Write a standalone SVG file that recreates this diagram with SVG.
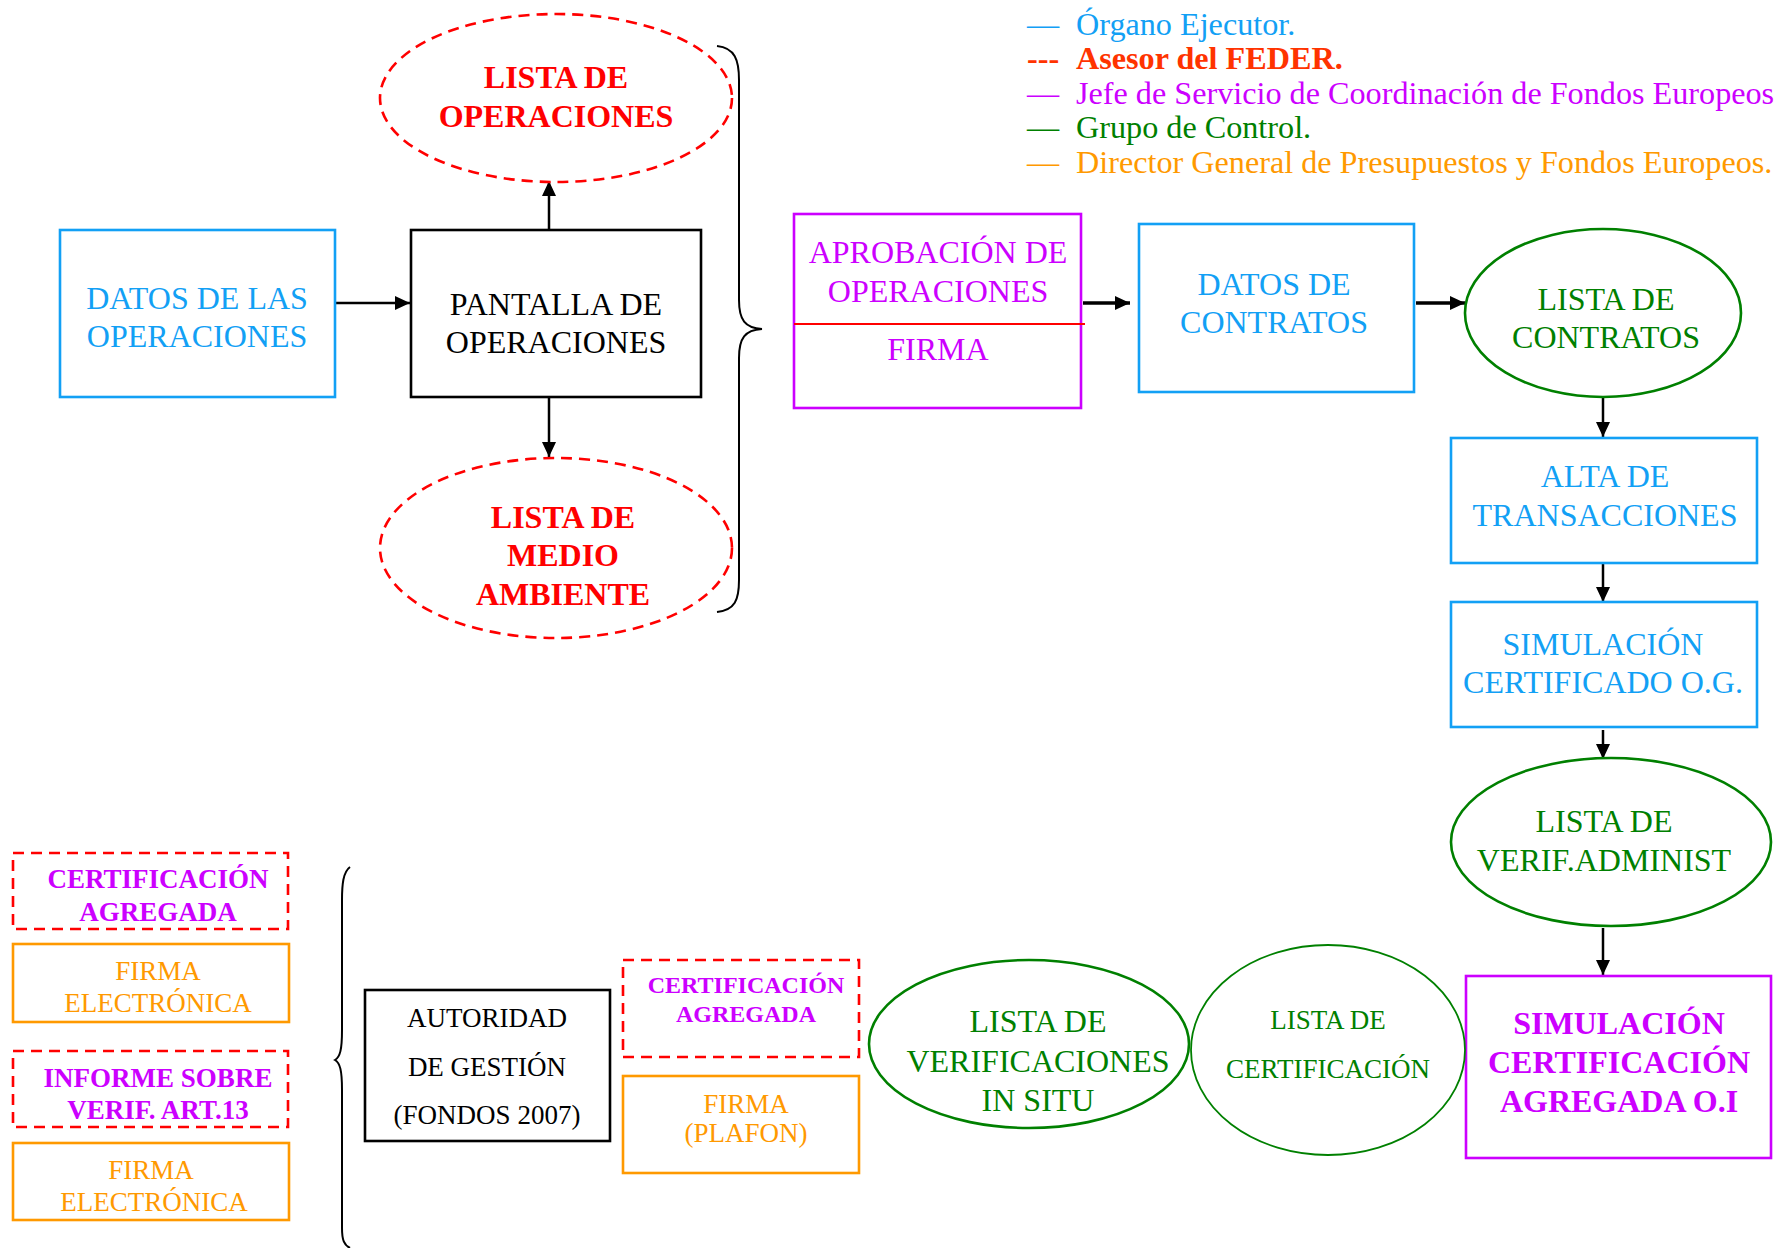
<svg xmlns="http://www.w3.org/2000/svg" width="1777" height="1248" viewBox="0 0 1777 1248">
<style>
text{font-family:"Liberation Serif","Times New Roman",serif;text-anchor:middle}
.t32{font-size:32px}
.t27{font-size:27px}
.t24{font-size:24px}
.b{font-weight:bold}
.blue{fill:#12a0f5}
.red{fill:#ff0000}
.mag{fill:#cc00ff}
.grn{fill:#008000}
.org{fill:#ff9900}
.blk{fill:#000}
.bx{fill:#fff;stroke-width:2.6}
.sb{stroke:#12a0f5}
.sm{stroke:#cc00ff}
.sg{stroke:#008000}
.so{stroke:#ff9900}
.sk{stroke:#000}
.dash{fill:#fff;stroke:#ff0000;stroke-width:2.6;stroke-dasharray:11 7}
.conn{stroke:#000;stroke-width:2.5;fill:none;marker-end:url(#ah)}
.lg{font-size:32.2px;text-anchor:start}
</style>
<defs>
<marker id="ah" markerUnits="userSpaceOnUse" markerWidth="16" markerHeight="16" refX="15" refY="7" orient="auto">
<path d="M0,0 L15,7 L0,14 z" fill="#000"/>
</marker>
</defs>

<g id="legend">
<text class="lg" x="1027" y="35" fill="#12a0f5">—</text>
<text class="lg" x="1076" y="35" fill="#12a0f5">Órgano Ejecutor.</text>
<text class="lg b" x="1027" y="69" fill="#ff3300">---</text>
<text class="lg b" x="1076" y="69" fill="#ff3300">Asesor del FEDER.</text>
<text class="lg" x="1027" y="104" fill="#cc00ff">—</text>
<text class="lg" x="1076" y="104" fill="#cc00ff">Jefe de Servicio de Coordinación de Fondos Europeos</text>
<text class="lg" x="1027" y="138" fill="#008000">—</text>
<text class="lg" x="1076" y="138" fill="#008000">Grupo de Control.</text>
<text class="lg" x="1027" y="173" fill="#ff9900">—</text>
<text class="lg" x="1076" y="173" fill="#ff9900">Director General de Presupuestos y Fondos Europeos.</text>
</g>

<g id="connectors">
<line class="conn" x1="335" y1="303" x2="410" y2="303"/>
<line class="conn" x1="549" y1="229" x2="549" y2="181"/>
<line class="conn" x1="549" y1="395" x2="549" y2="457"/>
<line class="conn" x1="1083" y1="303" x2="1130" y2="303" style="stroke-width:3.5"/>
<line class="conn" x1="1416" y1="303" x2="1465" y2="303" style="stroke-width:3.5"/>
<line class="conn" x1="1603" y1="395" x2="1603" y2="437"/>
<line class="conn" x1="1603" y1="563" x2="1603" y2="602"/>
<line class="conn" x1="1603" y1="730" x2="1603" y2="759"/>
<line class="conn" x1="1603" y1="928" x2="1603" y2="975"/>
<path d="M717,46 C735,48 739,60 739,80 L739,300 C739,320 745,328 762,329 C745,330 739,338 739,358 L739,580 C739,600 735,610 717,612" fill="none" stroke="#000" stroke-width="2"/>
<path d="M350,867 C343,872 342,885 342,900 L342,1030 C342,1050 340,1057 335,1060 C340,1063 342,1070 342,1090 L342,1228 C342,1240 344,1245 350,1248" fill="none" stroke="#000" stroke-width="2"/>
</g>

<g id="datos-operaciones">
<rect class="bx sb" x="60" y="230" width="275" height="167"/>
<text class="t32 blue" x="197" y="309">DATOS DE LAS</text>
<text class="t32 blue" x="197" y="347">OPERACIONES</text>
</g>

<g id="pantalla-operaciones">
<rect class="bx sk" x="411" y="230" width="290" height="167"/>
<text class="t32 blk" x="556" y="315">PANTALLA DE</text>
<text class="t32 blk" x="556" y="353">OPERACIONES</text>
</g>

<g id="lista-operaciones">
<ellipse class="dash" cx="556" cy="98" rx="176" ry="84"/>
<text class="t32 b red" x="556" y="88">LISTA DE</text>
<text class="t32 b red" x="556" y="127">OPERACIONES</text>
</g>

<g id="lista-medio-ambiente">
<ellipse class="dash" cx="556" cy="548" rx="176" ry="90"/>
<text class="t32 b red" x="563" y="528">LISTA DE</text>
<text class="t32 b red" x="563" y="566">MEDIO</text>
<text class="t32 b red" x="563" y="605">AMBIENTE</text>
</g>

<g id="aprobacion-operaciones">
<rect class="bx sm" x="794" y="214" width="287" height="194"/>
<line x1="794" y1="324" x2="1085" y2="324" stroke="#ff0000" stroke-width="2"/>
<text class="t32 mag" x="938" y="263">APROBACIÓN DE</text>
<text class="t32 mag" x="938" y="302">OPERACIONES</text>
<text class="t32 mag" x="938" y="360">FIRMA</text>
</g>

<g id="datos-contratos">
<rect class="bx sb" x="1139" y="224" width="275" height="168"/>
<text class="t32 blue" x="1274" y="295">DATOS DE</text>
<text class="t32 blue" x="1274" y="333">CONTRATOS</text>
</g>

<g id="lista-contratos">
<ellipse class="bx sg" cx="1603" cy="313" rx="138" ry="84"/>
<text class="t32 grn" x="1606" y="310">LISTA DE</text>
<text class="t32 grn" x="1606" y="348">CONTRATOS</text>
</g>

<g id="alta-transacciones">
<rect class="bx sb" x="1451" y="438" width="306" height="125"/>
<text class="t32 blue" x="1605" y="487">ALTA DE</text>
<text class="t32 blue" x="1605" y="526">TRANSACCIONES</text>
</g>

<g id="simulacion-og">
<rect class="bx sb" x="1451" y="602" width="306" height="125"/>
<text class="t32 blue" x="1603" y="655">SIMULACIÓN</text>
<text class="t32 blue" x="1603" y="693">CERTIFICADO O.G.</text>
</g>

<g id="lista-verif-administ">
<ellipse class="bx sg" cx="1611" cy="842" rx="160" ry="84"/>
<text class="t32 grn" x="1604" y="832">LISTA DE</text>
<text class="t32 grn" x="1604" y="871">VERIF.ADMINIST</text>
</g>

<g id="simulacion-oi">
<rect class="bx sm" x="1466" y="976" width="305" height="182"/>
<text class="t32 b mag" x="1619" y="1034">SIMULACIÓN</text>
<text class="t32 b mag" x="1619" y="1073">CERTIFICACIÓN</text>
<text class="t32 b mag" x="1619" y="1112">AGREGADA O.I</text>
</g>

<g id="lista-certificacion">
<ellipse cx="1328" cy="1050" rx="137" ry="105" fill="#fff" stroke="#008000" stroke-width="1.8"/>
<text class="t27 grn" x="1328" y="1029">LISTA DE</text>
<text class="t27 grn" x="1328" y="1078">CERTIFICACIÓN</text>
</g>

<g id="lista-verificaciones-in-situ">
<ellipse class="bx sg" cx="1029" cy="1044" rx="160" ry="84" fill="none"/>
<text class="t32 grn" x="1038" y="1032">LISTA DE</text>
<text class="t32 grn" x="1038" y="1072">VERIFICACIONES</text>
<text class="t32 grn" x="1038" y="1111">IN SITU</text>
</g>

<g id="certificacion-agregada-2">
<rect class="dash" x="623" y="960" width="236" height="97"/>
<text class="t24 b mag" x="746" y="993">CERTIFICACIÓN</text>
<text class="t24 b mag" x="746" y="1022">AGREGADA</text>
</g>

<g id="firma-plafon">
<rect class="bx so" x="623" y="1076" width="236" height="97"/>
<text class="t27 org" x="746" y="1113">FIRMA</text>
<text class="t27 org" x="746" y="1142">(PLAFON)</text>
</g>

<g id="autoridad-gestion">
<rect class="bx sk" x="365" y="990" width="245" height="151"/>
<text class="t27 blk" x="487" y="1027">AUTORIDAD</text>
<text class="t27 blk" x="487" y="1076">DE GESTIÓN</text>
<text class="t27 blk" x="487" y="1124">(FONDOS 2007)</text>
</g>

<g id="certificacion-agregada-1">
<rect class="dash" x="13" y="853" width="275" height="76"/>
<text class="t27 b mag" x="158" y="888">CERTIFICACIÓN</text>
<text class="t27 b mag" x="158" y="921">AGREGADA</text>
</g>

<g id="firma-electronica-1">
<rect class="bx so" x="13" y="944" width="276" height="78"/>
<text class="t27 org" x="158" y="980">FIRMA</text>
<text class="t27 org" x="158" y="1012">ELECTRÓNICA</text>
</g>

<g id="informe-verif">
<rect class="dash" x="13" y="1051" width="275" height="76"/>
<text class="t27 b mag" x="158" y="1087">INFORME SOBRE</text>
<text class="t27 b mag" x="158" y="1119">VERIF. ART.13</text>
</g>

<g id="firma-electronica-2">
<rect class="bx so" x="13" y="1143" width="276" height="77"/>
<text class="t27 org" x="151" y="1179">FIRMA</text>
<text class="t27 org" x="154" y="1211">ELECTRÓNICA</text>
</g>
</svg>
